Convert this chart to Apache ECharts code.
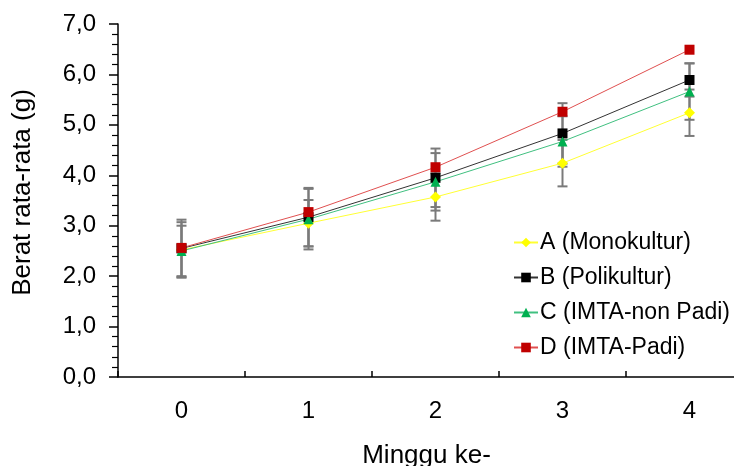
<!DOCTYPE html>
<html>
<head>
<meta charset="utf-8">
<script src="https://cdn.jsdelivr.net/npm/echarts@6/dist/echarts.min.js"></script>
<style>
html,body{margin:0;padding:0;background:#fff;}
#c{width:734px;height:466px;}
</style>
</head>
<body>
<div id="c"></div>
<script>
const weeks = ['0', '1', '2', '3', '4'];
const yTicks = [0, 1, 2, 3, 4, 5, 6, 7];
const seriesNames = ['A (Monokultur)', 'B (Polikultur)', 'C (IMTA-non Padi)', 'D (IMTA-Padi)'];
const valA = [2.52, 3.05, 3.57, 4.24, 5.24];
const valB = [2.55, 3.17, 3.95, 4.83, 5.89];
const valC = [2.50, 3.13, 3.87, 4.67, 5.66];
const valD = [2.56, 3.27, 4.16, 5.26, 6.49];
const errA = [0.55, 0.46, 0.47, 0.46, 0.46];
const errB = [0.57, 0.58, 0.58, 0.60, 0.33];
const errC = [0.50, 0.60, 0.57, 0.50, 0.56];

const FONT = '"Liberation Sans", Arial, sans-serif';

const errData = [];
[[valA, errA], [valB, errB], [valC, errC]].forEach(([v, e]) => {
  v.forEach((y, i) => errData.push([i, y - e[i], y + e[i]]));
});

const chart = echarts.init(document.getElementById('c'), null, {renderer: 'canvas'});

function lineSeries(name, data, lineColor, markColor, symbol, size) {
  return {
    name: name, type: 'line', data: data,
    symbol: symbol, symbolSize: size,
    z: 3,
    lineStyle: {color: lineColor, width: 1},
    itemStyle: {color: markColor, borderWidth: 0},
    emphasis: {disabled: true},
    animation: false
  };
}

chart.setOption({
  backgroundColor: '#ffffff',
  animation: false,
  grid: {left: 118, width: 635, top: 24, height: 353, containLabel: false, outerBoundsMode: 'none'},
  legend: {
    data: seriesNames,
    orient: 'vertical',
    left: 508, top: 226,
    itemWidth: 24, itemHeight: 12, itemGap: 12,
    textStyle: {fontFamily: FONT, fontSize: 23, color: '#000', padding: [0, 0, 0, -3]},
    selectedMode: false
  },
  xAxis: {
    type: 'category', data: weeks, boundaryGap: true,
    axisLine: {show: true, lineStyle: {color: '#000', width: 1.5}},
    axisTick: {show: true, inside: true, length: 6, alignWithLabel: false, lineStyle: {color: '#000', width: 1.5}},
    axisLabel: {fontFamily: FONT, fontSize: 24, color: '#000', margin: 22},
    splitLine: {show: false},
    name: 'Minggu ke-', nameLocation: 'middle', nameGap: 66,
    nameTextStyle: {fontFamily: FONT, fontSize: 26, color: '#000', padding: [0, 18, 0, 0]}
  },
  yAxis: {
    type: 'value', min: yTicks[0], max: yTicks[yTicks.length - 1], interval: 1,
    axisLine: {show: true, lineStyle: {color: '#000', width: 1.5}},
    axisTick: {show: true, inside: false, length: 9, lineStyle: {color: '#000', width: 1.5}},
    minorTick: {show: true, splitNumber: 5, length: 6, lineStyle: {color: '#000', width: 1.2}},
    axisLabel: {fontFamily: FONT, fontSize: 24, color: '#000', margin: 22,
      formatter: v => v.toFixed(1).replace('.', ',')},
    splitLine: {show: false},
    name: 'Berat rata-rata (g)', nameLocation: 'middle', nameGap: 82,
    nameTextStyle: {fontFamily: FONT, fontSize: 26, color: '#000', padding: [0, 0, 0, 16]}
  },
  series: [
    {
      type: 'custom', name: 'err', z: 1, silent: true,
      data: errData,
      renderItem: function (params, api) {
        const i = api.value(0);
        const lo = api.coord([i, api.value(1)]);
        const hi = api.coord([i, api.value(2)]);
        const hw = 5;
        const st = {stroke: '#7a7a7a', lineWidth: 2};
        return {type: 'group', children: [
          {type: 'line', shape: {x1: lo[0], y1: lo[1], x2: hi[0], y2: hi[1]}, style: st},
          {type: 'line', shape: {x1: lo[0] - hw, y1: lo[1], x2: lo[0] + hw, y2: lo[1]}, style: st},
          {type: 'line', shape: {x1: hi[0] - hw, y1: hi[1], x2: hi[0] + hw, y2: hi[1]}, style: st}
        ]};
      },
      animation: false
    },
    lineSeries(seriesNames[0], valA, '#ffff33', '#ffff00', 'diamond', 11),
    lineSeries(seriesNames[1], valB, '#333333', '#000000', 'rect', 10),
    lineSeries(seriesNames[2], valC, '#40c080', '#00b050', 'triangle', 10),
    lineSeries(seriesNames[3], valD, '#e05050', '#c00000', 'rect', 10)
  ]
});
</script>
</body>
</html>
